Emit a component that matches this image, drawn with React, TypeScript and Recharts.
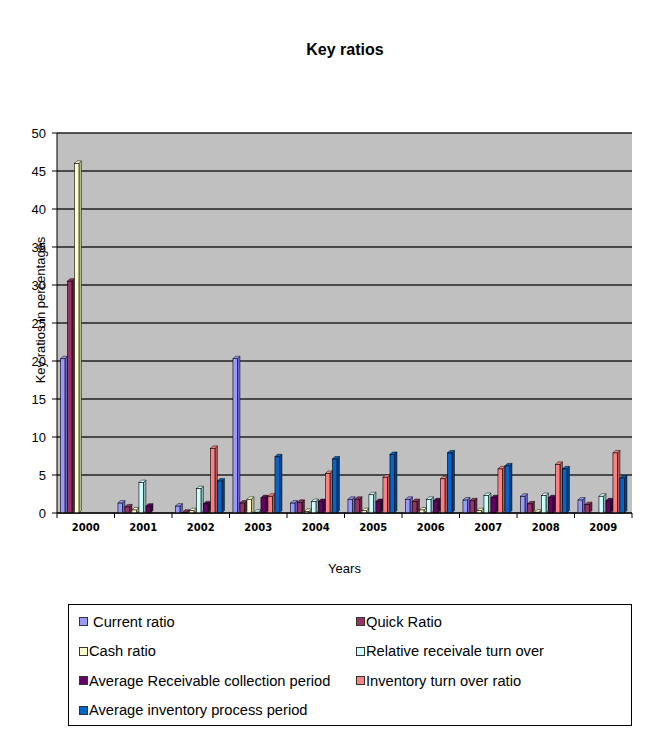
import React from "react";
import {
  BarChart,
  Bar,
  XAxis,
  YAxis,
  CartesianGrid,
  Legend,
} from "recharts";

const years = ["2000", "2001", "2002", "2003", "2004", "2005", "2006", "2007", "2008", "2009"];

const currentRatio = [20.3, 1.3, 0.9, 20.3, 1.3, 1.8, 1.8, 1.7, 2.2, 1.7];
const quickRatio = [30.5, 0.8, 0.1, 1.3, 1.4, 1.8, 1.5, 1.6, 1.2, 1.1];
const cashRatio = [46, 0.4, 0.3, 1.8, 0.2, 0.3, 0.4, 0.3, 0.1, 0];
const relativeTurnover = [0, 4.0, 3.2, 0.1, 1.5, 2.4, 1.8, 2.3, 2.3, 2.2];
const avgReceivablePeriod = [0, 0.9, 1.2, 2.0, 1.5, 1.5, 1.6, 2.0, 2.0, 1.6];
const inventoryTurnover = [0, 0, 8.5, 2.2, 5.2, 4.7, 4.5, 5.8, 6.4, 7.9];
const avgInventoryPeriod = [0, 0, 4.2, 7.4, 7.1, 7.7, 7.9, 6.2, 5.8, 4.6];

const yTicks = [0, 5, 10, 15, 20, 25, 30, 35, 40, 45, 50];

const series = [
  { key: "current", name: " Current ratio", color: "#9999FF", side: "#6666CC", values: currentRatio },
  { key: "quick", name: "Quick Ratio", color: "#993366", side: "#66223F", values: quickRatio },
  { key: "cash", name: "Cash ratio", color: "#FFFFCC", side: "#BDBD95", values: cashRatio },
  { key: "relative", name: "Relative receivale turn over", color: "#CCFFFF", side: "#8FB3B3", values: relativeTurnover },
  { key: "avgRec", name: "Average Receivable collection period", color: "#660066", side: "#3D003D", values: avgReceivablePeriod },
  { key: "invTurn", name: "Inventory turn over ratio", color: "#FF8080", side: "#B35A5A", values: inventoryTurnover },
  { key: "avgInv", name: "Average inventory process period", color: "#0066CC", side: "#004080", values: avgInventoryPeriod },
];

const data = years.map((year, i) => {
  const row: Record<string, string | number> = { year };
  series.forEach((s) => {
    row[s.key] = s.values[i];
  });
  return row;
});

const FONT = "Arial, 'Liberation Sans', sans-serif";

// bar with a little excel-style 3d top and side
const Bar3D = (props: any) => {
  const { x, y, width, height, fill, side, value } = props;
  if (width == null || height == null || height <= 0 || !value) return null;
  const d = 2.5;
  const w = width - d;
  return (
    <g>
      <polygon
        points={`${x + w},${y} ${x + w + d},${y - d} ${x + w + d},${y + height - d} ${x + w},${y + height}`}
        fill={side}
        stroke="#000"
        strokeWidth={0.5}
      />
      <polygon
        points={`${x},${y} ${x + d},${y - d} ${x + w + d},${y - d} ${x + w},${y}`}
        fill={fill}
        stroke="#000"
        strokeWidth={0.5}
      />
      <rect x={x} y={y} width={w} height={height} fill={fill} stroke="#000" strokeWidth={0.6} />
    </g>
  );
};

const YearTick = (props: any) => {
  const { x, y, payload, width, visibleTicksCount, index } = props;
  const band = width / visibleTicksCount;
  return (
    <g>
      <line x1={x - band / 2} y1={y - 8} x2={x - band / 2} y2={y - 3} stroke="#000" />
      {index === visibleTicksCount - 1 && (
        <line x1={x + band / 2} y1={y - 8} x2={x + band / 2} y2={y - 3} stroke="#000" />
      )}
      <text
        x={x}
        y={y + 10}
        textAnchor="middle"
        fontFamily="Verdana, 'DejaVu Sans', sans-serif"
        fontSize={10}
        fontWeight="bold"
        fill="#000"
      >
        {payload.value}
      </text>
    </g>
  );
};

const LegendBox = () => (
  <div
    style={{
      border: "1px solid #000",
      width: 564,
      height: 122,
      boxSizing: "border-box",
      padding: "2px 0 0 10px",
      display: "grid",
      gridTemplateColumns: "277px 277px",
      gridAutoRows: "29.5px",
      fontFamily: FONT,
      fontSize: 14.7,
      color: "#000",
    }}
  >
    {series.map((s) => (
      <div key={s.key} style={{ display: "flex", alignItems: "center", whiteSpace: "pre" }}>
        <span
          style={{
            display: "inline-block",
            width: 7,
            height: 7,
            background: s.color,
            border: "1px solid #333",
            marginRight: 1,
          }}
        />
        {s.name}
      </div>
    ))}
  </div>
);

const AxisTitle = (props: any) => {
  const { viewBox } = props;
  const cx = viewBox.x + viewBox.width - 17;
  const cy = viewBox.y + viewBox.height / 2 - 13;
  return (
    <text
      x={cx}
      y={cy}
      transform={`rotate(-90 ${cx} ${cy})`}
      textAnchor="middle"
      dominantBaseline="central"
      fontFamily={FONT}
      fontSize={13}
      fill="#000"
    >
      Key ratios in percentages
    </text>
  );
};

export default function App() {
  return (
    <div
      style={{
        position: "absolute",
        left: 0,
        top: 0,
        width: 661,
        height: 737,
        background: "#fff",
      }}
    >
      <div
        style={{
          position: "absolute",
          top: 41,
          width: 661,
          textAlign: "center",
          fontFamily: FONT,
          fontWeight: "bold",
          fontSize: 16,
          paddingLeft: 29,
          boxSizing: "border-box",
        }}
      >
        Key ratios
      </div>
      <BarChart
        width={661}
        height={737}
        data={data}
        margin={{ top: 133, right: 29, bottom: 194, left: 0 }}
        barCategoryGap="6%"
        barGap={0}
      >
        <CartesianGrid
          vertical={false}
          fill="#C0C0C0"
          stroke="#222"
          strokeWidth={1.5}
          horizontalValues={yTicks}
        />
        <XAxis
          dataKey="year"
          height={30}
          axisLine={{ stroke: "#000" }}
          tickLine={false}
          interval={0}
          tick={<YearTick />}
          label={{
            value: "Years",
            position: "insideBottom",
            offset: -30,
            fontFamily: FONT,
            fontSize: 13,
            fill: "#000",
          }}
        />
        <YAxis
          width={57}
          domain={[0, 50]}
          ticks={yTicks}
          interval={0}
          axisLine={{ stroke: "#000" }}
          tickLine={{ stroke: "#000" }}
          tickSize={5}
          tickMargin={6}
          tick={{ fontFamily: FONT, fontSize: 13, fill: "#000" }}
          label={<AxisTitle />}
        />
        <Legend
          layout="horizontal"
          verticalAlign="middle"
          align="center"
          content={<LegendBox />}
          wrapperStyle={{ position: "absolute", left: 68, top: 604, width: 564, height: 122 }}
        />
        {series.map((s) => (
          <Bar
            key={s.key}
            dataKey={s.key}
            name={s.name}
            fill={s.color}
            isAnimationActive={false}
            shape={(p: any) => <Bar3D {...p} fill={s.color} side={s.side} />}
          />
        ))}
      </BarChart>
    </div>
  );
}
